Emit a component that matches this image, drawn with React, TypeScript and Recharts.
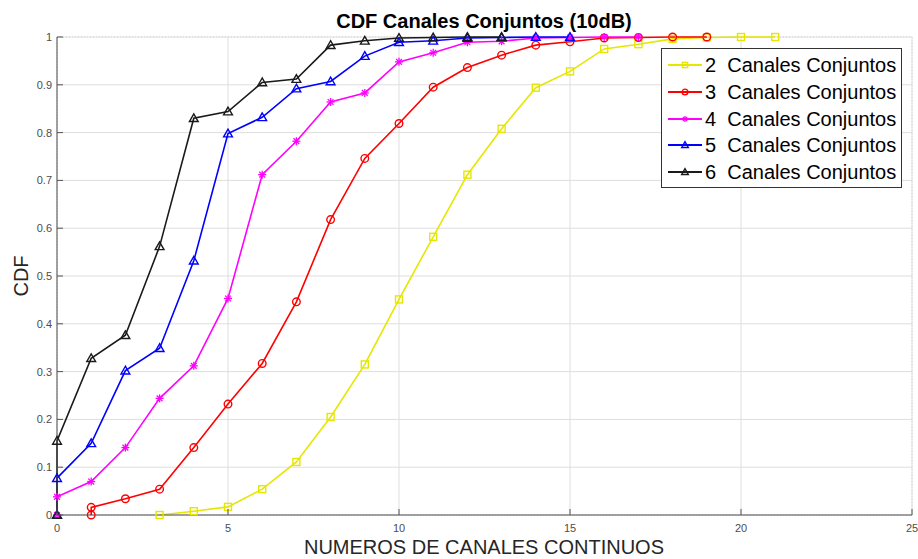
import React from 'react'
import { LineChart, Line, XAxis, YAxis, CartesianGrid, Legend } from 'recharts'

// valores (CDF por numero de canales)
const CH2_X = [3, 4, 5, 6, 7, 8, 9, 10, 11, 12, 13, 14, 15, 16, 17, 18, 19, 20, 21]
const CH2_Y = [0, 0.008, 0.017, 0.054, 0.111, 0.205, 0.315, 0.451, 0.582, 0.712, 0.808, 0.894, 0.928, 0.975, 0.985, 0.996, 0.999, 1, 1]

const CH3_X = [1, 1, 2, 3, 4, 5, 6, 7, 8, 9, 10, 11, 12, 13, 14, 15, 16, 17, 18, 19]
const CH3_Y = [0, 0.016, 0.034, 0.054, 0.141, 0.232, 0.317, 0.446, 0.618, 0.746, 0.819, 0.895, 0.936, 0.962, 0.983, 0.99, 0.998, 0.999, 1, 1]

const CH4_X = [0, 0, 1, 2, 3, 4, 5, 6, 7, 8, 9, 10, 11, 12, 13, 14, 15, 16, 17]
const CH4_Y = [0, 0.038, 0.07, 0.141, 0.244, 0.312, 0.453, 0.712, 0.782, 0.864, 0.883, 0.948, 0.967, 0.989, 0.991, 0.998, 0.999, 1, 1]

const CH5_X = [0, 0, 1, 2, 3, 4, 5, 6, 7, 8, 9, 10, 11, 12, 13, 14, 15]
const CH5_Y = [0, 0.077, 0.15, 0.302, 0.349, 0.532, 0.798, 0.832, 0.892, 0.907, 0.96, 0.989, 0.992, 0.998, 0.999, 1, 1]

const CH6_X = [0, 0, 1, 2, 3, 4, 5, 6, 7, 8, 9, 10, 11, 12, 13]
const CH6_Y = [0, 0.155, 0.328, 0.376, 0.562, 0.83, 0.844, 0.905, 0.912, 0.983, 0.992, 0.998, 0.999, 1, 1]

const X_TICKS = [0, 5, 10, 15, 20, 25]
const Y_TICKS = [0, 0.1, 0.2, 0.3, 0.4, 0.5, 0.6, 0.7, 0.8, 0.9, 1]
const X_MINOR = Array.from({ length: 26 }, (_, i) => i)
const Y_MINOR = Array.from({ length: 51 }, (_, i) => i / 50)

const zip = (xs: number[], ys: number[]) => xs.map((x, i) => ({ x, y: ys[i] }))

const SERIES = [
  { name: '2  Canales Conjuntos', color: '#e6e600', shape: 'square', data: zip(CH2_X, CH2_Y) },
  { name: '3  Canales Conjuntos', color: '#ff0000', shape: 'circle', data: zip(CH3_X, CH3_Y) },
  { name: '4  Canales Conjuntos', color: '#ff00ff', shape: 'star', data: zip(CH4_X, CH4_Y) },
  { name: '5  Canales Conjuntos', color: '#0000ff', shape: 'triangle', data: zip(CH5_X, CH5_Y) },
  { name: '6  Canales Conjuntos', color: '#1a1a1a', shape: 'triangle', data: zip(CH6_X, CH6_Y) },
]

const FONT = '"Liberation Sans", Arial, sans-serif'
const AXIS = '#555'
const TICK_TEXT = '#4d4d4d'

function Marker({ shape, color, cx, cy, s = 1 }: any) {
  if (shape === 'square') {
    const h = 3.5 * s
    return <rect x={cx - h} y={cy - h} width={2 * h} height={2 * h} fill="none" stroke={color} strokeWidth={1.4} />
  }
  if (shape === 'circle') {
    return <circle cx={cx} cy={cy} r={3.8 * s} fill="none" stroke={color} strokeWidth={1.4} />
  }
  if (shape === 'star') {
    const r = 4 * s
    const d = r * 0.72
    return (
      <g stroke={color} strokeWidth={1.3}>
        <line x1={cx - r} x2={cx + r} y1={cy} y2={cy} />
        <line x1={cx} x2={cx} y1={cy - r} y2={cy + r} />
        <line x1={cx - d} x2={cx + d} y1={cy - d} y2={cy + d} />
        <line x1={cx - d} x2={cx + d} y1={cy + d} y2={cy - d} />
      </g>
    )
  }
  const r = 4.4 * s
  return (
    <polygon
      points={`${cx},${cy - r} ${cx - r},${cy + r * 0.75} ${cx + r},${cy + r * 0.75}`}
      fill="none"
      stroke={color}
      strokeWidth={1.4}
    />
  )
}

const dotFor = (shape: string, color: string) => (p: any) => {
  if (p.cx == null || p.cy == null) return <g key={p.index} />
  return (
    <g key={p.index}>
      <Marker shape={shape} color={color} cx={p.cx} cy={p.cy} />
    </g>
  )
}

const fmtY = (v: number) => String(Math.round(v * 10) / 10)

const BottomTick = (p: any) => (
  <g>
    <line x1={p.x} x2={p.x} y1={p.y - 9} y2={p.y - 15} stroke={AXIS} />
    <text x={p.x} y={p.y} dy="0.71em" textAnchor="middle" fontSize={11} fontFamily={FONT} fill={TICK_TEXT}>
      {p.payload.value}
    </text>
  </g>
)

const LeftTick = (p: any) => (
  <g>
    <line x1={p.x + 5} x2={p.x + 11} y1={p.y} y2={p.y} stroke={AXIS} />
    <text x={p.x} y={p.y} dy="0.355em" textAnchor="end" fontSize={11} fontFamily={FONT} fill={TICK_TEXT}>
      {fmtY(p.payload.value)}
    </text>
  </g>
)

// ticks interiores del borde superior / derecho
const TopTick = (p: any) =>
  p.payload.value % 5 === 0 ? <line x1={p.x} x2={p.x} y1={p.y} y2={p.y + 6} stroke={AXIS} /> : <g />

const RightTick = (p: any) =>
  Math.round(p.payload.value * 50) % 5 === 0 ? <line x1={p.x} x2={p.x - 6} y1={p.y} y2={p.y} stroke={AXIS} /> : <g />

const LegendBox = () => (
  <div
    style={{
      background: '#fff',
      border: '1px solid #333',
      width: 239,
      padding: '3px 0 2px 0',
      fontFamily: FONT,
      fontSize: 20,
      color: '#000',
    }}
  >
    {SERIES.map(s => (
      <div key={s.name} style={{ display: 'flex', alignItems: 'center', height: 26.7 }}>
        <svg width={38} height={14} style={{ marginLeft: 5, flex: 'none' }}>
          <line x1={1} x2={35} y1={7} y2={7} stroke={s.color} strokeWidth={2} />
          <Marker shape={s.shape} color={s.color} cx={18} cy={7} s={0.75} />
        </svg>
        <span style={{ whiteSpace: 'pre', lineHeight: '20px' }}>{s.name}</span>
      </div>
    ))}
  </div>
)

export default function App() {
  return (
    <div style={{ position: 'absolute', left: 0, top: 0, width: 918, height: 559, background: '#fff' }}>
      <LineChart width={918} height={559} margin={{ top: 37, right: 6, bottom: 24, left: 17 }}>
        <CartesianGrid xAxisId="minor" yAxisId="minor" stroke="#c4c4c4" strokeDasharray="1 2" />
        <CartesianGrid xAxisId="main" yAxisId="main" stroke="#dedede" />
        <XAxis
          xAxisId="main"
          type="number"
          dataKey="x"
          domain={[0, 25]}
          ticks={X_TICKS}
          interval={0}
          height={20}
          tickSize={0}
          tickMargin={9}
          tick={<BottomTick />}
          stroke={AXIS}
          allowDuplicatedCategory
        />
        <YAxis
          yAxisId="main"
          type="number"
          dataKey="y"
          domain={[0, 1]}
          ticks={Y_TICKS}
          interval={0}
          width={40}
          tickSize={0}
          tickMargin={5}
          tick={<LeftTick />}
          stroke={AXIS}
        />
        <XAxis
          xAxisId="minor"
          orientation="top"
          type="number"
          domain={[0, 25]}
          ticks={X_MINOR}
          interval={0}
          height={0}
          tickSize={0}
          tickMargin={0}
          tick={<TopTick />}
          stroke={AXIS}
        />
        <YAxis
          yAxisId="minor"
          orientation="right"
          type="number"
          domain={[0, 1]}
          ticks={Y_MINOR}
          interval={0}
          width={0}
          tickSize={0}
          tickMargin={0}
          tick={<RightTick />}
          stroke={AXIS}
        />
        {SERIES.map(s => (
          <Line
            key={s.name}
            xAxisId="main"
            yAxisId="main"
            data={s.data}
            dataKey="y"
            name={s.name}
            type="linear"
            stroke={s.color}
            strokeWidth={1.6}
            dot={dotFor(s.shape, s.color)}
            activeDot={false}
            isAnimationActive={false}
          />
        ))}
        <Legend
          layout="vertical"
          align="center"
          verticalAlign="middle"
          content={<LegendBox />}
          wrapperStyle={{ left: 661, top: 48, width: 241, height: 137 }}
        />
      </LineChart>

      <div
        style={{
          position: 'absolute', left: 284, width: 400, top: 11, lineHeight: '20px',
          textAlign: 'center', fontFamily: FONT, fontSize: 20, fontWeight: 'bold', color: '#000',
        }}
      >
        CDF Canales Conjuntos (10dB)
      </div>
      <div
        style={{
          position: 'absolute', left: 234, width: 500, top: 537, lineHeight: '20px',
          textAlign: 'center', fontFamily: FONT, fontSize: 20, color: '#262626',
        }}
      >
        NUMEROS DE CANALES CONTINUOS
      </div>
      <div
        style={{
          position: 'absolute', left: -29, top: 266, width: 100, lineHeight: '20px',
          textAlign: 'center', fontFamily: FONT, fontSize: 20, color: '#262626',
          transform: 'rotate(-90deg)',
        }}
      >
        CDF
      </div>
    </div>
  )
}
